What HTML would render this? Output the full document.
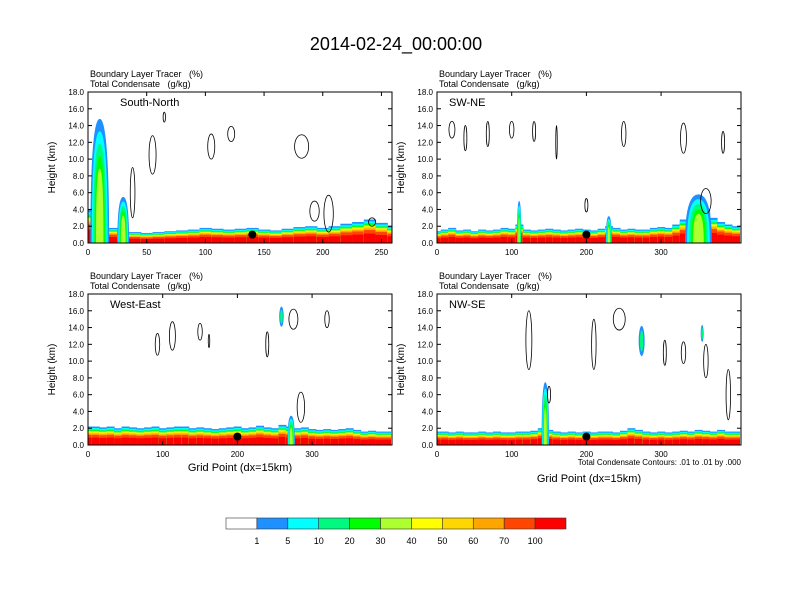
<!DOCTYPE html>
<html><head><meta charset="utf-8"><style>
body{margin:0;background:#fff;}
svg{display:block;font-family:"Liberation Sans",sans-serif;}
text{white-space:pre;}
</style></head><body>
<svg id="fig" width="792" height="612" viewBox="0 0 792 612">
<text x="396" y="50" font-size="18" text-anchor="middle">2014-02-24_00:00:00</text>
<g id="panels"></g>
<g id="cbar"></g>
</svg>
<script>
// ---- data (heights in km, x in grid points) ----
const panelNames = ["South-North","SW-NE","West-East","NW-SE"];
const colorLevels = ["1","5","10","20","30","40","50","60","70","100"];
const colorFills = ["#ffffff","#1e90ff","#00ffff","#00fa80","#00ff00","#adff2f","#ffff00","#ffd700","#ffa500","#ff4500","#ff0000"];
const snXMax = 259, swneXMax = 407, weXMax = 407, nwseXMax = 407;
const snTicks = [0,50,100,150,200,250];
const longTicks = [0,100,200,300];
const yTicks = [0,2,4,6,8,10,12,14,16,18];
// boundary layer top, sampled every 10 grid points
const snTop = [4.0,3.0,1.8,1.3,1.3,1.2,1.3,1.4,1.5,1.6,1.8,1.7,1.6,1.7,1.8,1.6,1.5,1.7,1.9,2.0,1.8,2.0,2.3,2.5,2.8,2.4,2.0];
const swneTop = [1.4,1.6,1.8,1.5,1.6,1.4,1.6,1.5,1.6,1.8,1.7,2.2,1.6,1.5,1.6,1.7,1.6,1.5,1.6,1.7,1.6,1.5,1.7,2.0,1.8,1.6,1.7,1.6,1.6,1.8,1.9,1.8,2.2,2.8,3.5,4.5,4.0,3.0,2.5,2.2,2.0];
const weTop = [2.2,2.2,2.1,2.2,2.0,2.2,2.1,2.0,2.1,2.2,2.0,2.1,2.2,2.2,2.0,2.1,2.0,1.9,2.0,2.1,2.2,2.0,2.1,2.3,2.1,2.0,2.4,2.2,2.0,2.1,1.9,1.8,1.9,1.8,1.9,2.0,1.8,1.6,1.7,1.6,1.6];
const nwseTop = [1.6,1.6,1.5,1.6,1.5,1.5,1.6,1.5,1.6,1.5,1.5,1.6,1.6,1.7,2.0,1.8,1.6,1.5,1.6,1.5,1.6,1.5,1.6,1.6,1.5,1.7,2.0,1.8,1.6,1.5,1.6,1.5,1.6,1.7,1.6,1.8,1.7,1.6,1.8,1.6,1.6];
// convective plumes: [x center, top km, half-width grid]
const snPlumes = [[10,14.8,8],[30,5.5,5]];
const swnePlumes = [[110,5,3],[230,3.2,4],[350,5.8,18]];
const wePlumes = [[272,3.5,5]];
const nwsePlumes = [[145,7.5,5]];
// detached cloud blobs: [x, y km, rx grid, ry km]
const snBlobs = [];
const swneBlobs = [];
const weBlobs = [[259,15.3,3,1.2]];
const nwseBlobs = [[274,12.4,4,1.8],[355,13.3,2,1.0]];
// contour ellipses: [x, y km, rx grid, ry km]
const snCont = [[55,10.5,3,2.3],[122,13,3,0.9],[105,11.5,3,1.5],[182,11.5,6,1.4],[193,3.8,4,1.2],[205,3.5,4,2.2],[242,2.5,3,0.5],[38,6,2,3],[65,15,1,0.6]];
const swneCont = [[20,13.5,4,1.0],[38,12.5,2,1.5],[100,13.5,3,1.0],[68,13,2,1.5],[130,13.3,2,1.2],[160,12,1,2],[250,13,3,1.5],[330,12.5,4,1.8],[383,12,2,1.3],[360,5,7,1.5],[200,4.5,2,0.8]];
const weCont = [[113,13,4,1.7],[93,12,3,1.3],[150,13.5,3,1],[162,12.4,1,0.8],[240,12,2,1.5],[275,15,6,1.2],[320,15,3,1],[285,4.5,5,1.8]];
const nwseCont = [[123,12.5,4,3.5],[244,15,8,1.3],[210,12,3,3],[305,11,2,1.5],[330,11,3,1.3],[360,10,3,2],[390,6,3,3],[150,6,2,1]];
const dots = [140,200,200,200];

const S="http://www.w3.org/2000/svg";
function mk(tag,attrs,parent){const e=document.createElementNS(S,tag);for(const k in attrs)e.setAttribute(k,attrs[k]);parent.appendChild(e);return e;}
const panelsG=document.getElementById('panels');
const layout=[[88,92],[437,92],[88,294],[437,294]];
const PW=304, PH=151;
const cfg=[
 [snXMax,snTicks,snTop,snPlumes,snBlobs,snCont],
 [swneXMax,longTicks,swneTop,swnePlumes,swneBlobs,swneCont],
 [weXMax,longTicks,weTop,wePlumes,weBlobs,weCont],
 [nwseXMax,longTicks,nwseTop,nwsePlumes,nwseBlobs,nwseCont]];
const bandFr=[[1,"#1e90ff"],[0.92,"#00ffff"],[0.85,"#00fa80"],[0.8,"#00ff00"],[0.76,"#adff2f"],[0.72,"#ffff00"],[0.68,"#ffd700"],[0.62,"#ffa500"],[0.55,"#ff4500"],[0.4,"#ff0000"]];
cfg.forEach((c,i)=>{
 const [x0,y0]=layout[i];const [xmax,ticks,top,plumes,blobs,cont]=c;
 const X=v=>x0+v/xmax*PW, Y=v=>y0+PH-v/18*PH;
 const g=mk('g',{},panelsG);
 
 
 const t1=mk('text',{x:x0+2,y:y0-15,'font-size':9},g);t1.textContent="Boundary Layer Tracer   (%)";
 const t2=mk('text',{x:x0+2,y:y0-5,'font-size':9},g);t2.textContent="Total Condensate   (g/kg)";
 
 const clip=mk('clipPath',{id:'c'+i},g);mk('rect',{x:x0,y:y0,width:PW,height:PH},clip);
 const pg=mk('g',{'clip-path':'url(#c'+i+')'},g);
 const step=10;
 top.forEach((tv,j)=>{
  bandFr.forEach(([f,col])=>{
   const r=mk('rect',{x:X(j*step-5),y:Y(tv*f),width:X(step)-X(0)+0.5,height:Y(0)-Y(tv*f),fill:col},pg);
   
   
  });
 });
 plumes.forEach(p=>{
  const [px,ph,hw]=p;
  bandFr.slice(0,5).forEach(([f,col],k)=>{
   const w=hw*(1-k*0.15), h=ph*(1-k*0.1);
   const pa=mk('path',{d:`M${X(px-w)},${Y(0)} Q${X(px-w)},${Y(h)} ${X(px)},${Y(h)} Q${X(px+w)},${Y(h)} ${X(px+w)},${Y(0)}Z`,fill:col},pg);
   
   
  });
 });
 blobs.forEach(b=>{
  const e1=mk('ellipse',{cx:X(b[0]),cy:Y(b[1]),rx:X(b[2])-X(0),ry:Y(0)-Y(b[3]),fill:"#1e90ff"},pg);
  
  mk('ellipse',{cx:X(b[0]),cy:Y(b[1]),rx:(X(b[2])-X(0))*0.6,ry:(Y(0)-Y(b[3]))*0.7,fill:"#00fa80"},pg);
 });
 cont.forEach(b=>{
  const e=mk('ellipse',{cx:X(b[0]),cy:Y(b[1]),rx:X(b[2])-X(0),ry:Y(0)-Y(b[3]),fill:"none",stroke:"#000","stroke-width":0.8},pg);
  
  
 });
 const d=mk('circle',{cx:X(dots[i]),cy:Y(1.0),r:4,fill:"#000"},g);
 
 mk('rect',{x:x0,y:y0,width:PW,height:PH,fill:"none",stroke:"#000","stroke-width":1},g);
 const lab=mk('text',{x:x0+(i==0?32:i==1?12:i==2?22:12),y:y0+14,'font-size':11},g);lab.textContent=panelNames[i];
 
 yTicks.forEach(v=>{
  mk('line',{x1:x0,x2:x0+4,y1:Y(v),y2:Y(v),stroke:"#000"},g);
  mk('line',{x1:x0+PW,x2:x0+PW-4,y1:Y(v),y2:Y(v),stroke:"#000"},g);
  const tt=mk('text',{x:x0-4,y:Y(v)+3,'font-size':8,'text-anchor':'end'},g);tt.textContent=v.toFixed(1);
 });
 ticks.forEach(v=>{
  mk('line',{x1:X(v),x2:X(v),y1:y0+PH,y2:y0+PH-4,stroke:"#000"},g);
  mk('line',{x1:X(v),x2:X(v),y1:y0,y2:y0+4,stroke:"#000"},g);
  const tt=mk('text',{x:X(v),y:y0+PH+12,'font-size':8,'text-anchor':'middle'},g);tt.textContent=v;
 });
 const yl=mk('text',{x:0,y:0,'font-size':10,'text-anchor':'middle',transform:`translate(${x0-33},${y0+PH/2}) rotate(-90)`},g);yl.textContent="Height (km)";
 
 if(i>=2){const xl=mk('text',{x:x0+PW/2,y:i==2?471:482,'font-size':11,'text-anchor':'middle'},g);xl.textContent="Grid Point (dx=15km)";
  }
 if(i==3){const n=mk('text',{x:x0+PW,y:465,'font-size':8,'text-anchor':'end'},g);n.textContent="Total Condensate Contours: .01 to .01 by .000";
  }
});
const cb=document.getElementById('cbar');
const cx0=226,cw=340/colorFills.length;
colorFills.forEach((c,k)=>{
 const r=mk('rect',{x:cx0+k*cw,y:518,width:cw,height:11,fill:c,stroke:"#333","stroke-width":0.6},cb);
 
 
});
colorLevels.forEach((l,k)=>{
 const t=mk('text',{x:cx0+(k+1)*cw,y:544,'font-size':9,'text-anchor':'middle'},cb);t.textContent=l;
 
 
});
</script>
</body></html>
